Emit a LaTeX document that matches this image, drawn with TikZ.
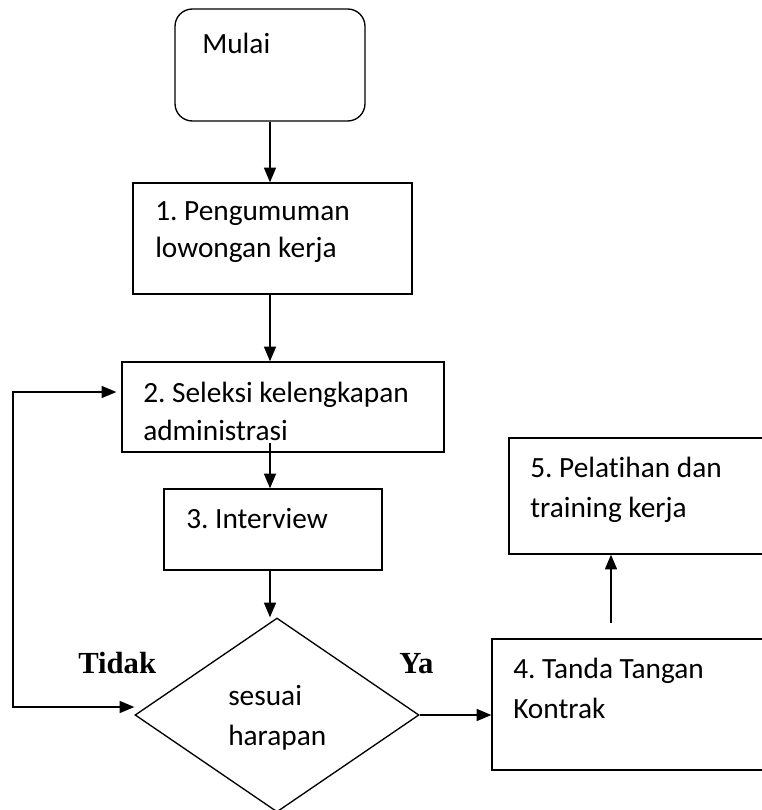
\documentclass[tikz,border=0pt]{standalone}
\usepackage{fontspec}
\setmainfont{Carlito}[Ligatures=NoCommon]
\newfontfamily\timesfont{Liberation Serif}
\usetikzlibrary{arrows.meta,shapes.geometric,fit,calc}
\frenchspacing
\begin{document}
\begin{tikzpicture}[x=0.75pt,y=-0.75pt,
  box/.style={draw,line width=1pt,inner sep=0pt},
  lbl/.style={anchor=base west,inner sep=0pt,font=\fontsize{22}{26}\selectfont},
  yn/.style={anchor=base west,inner sep=0pt,font=\timesfont\bfseries\fontsize{23}{27}\selectfont},
  arr/.style={line width=1pt,-{Triangle[length=11pt,width=9pt]}},
]
\useasboundingbox (0,0) rectangle (762,810);
\clip (0,0) rectangle (762,810);

% boxes
\node[box, rounded corners=13pt, fit={(175,9) (365,121)}] (mulai) {};
\node[box, fit={(133,183) (412,294)}] (b1) {};
\node[box, fit={(122,362) (444,452)}] (b2) {};
\node[box, fit={(164,489) (382,570)}] (b3) {};
\node[box, fit={(509,438) (800,554)}] (b5) {};
\node[box, fit={(492,639) (800,770)}] (b4) {};
\node[draw, diamond, line width=1pt, inner sep=0pt, minimum width=213pt, minimum height=145.5pt] (dec) at (277,715) {};

% texts
\node[lbl] (tmulai) at (202,53) {Mulai};
\node[lbl] (t1a) at (155,220) {1. Pengumuman};
\node[lbl] (t1b) at (155,257) {lowongan kerja};
\node[lbl] (t2a) at (143,402) {2. Seleksi kelengkapan};
\node[lbl] (t2b) at (143,440) {administrasi};
\node[lbl] (t3) at (186,528) {3. Interview};
\node[lbl] (tda) at (228,705) {sesuai};
\node[lbl] (tdb) at (228,745) {harapan};
\node[lbl] (t5a) at (530,477) {5. Pelatihan dan};
\node[lbl] (t5b) at (530,517) {training kerja};
\node[lbl] (t4a) at (513,678) {4. Tanda Tangan};
\node[lbl] (t4b) at (513,718) {Kontrak};
\node[yn] (tidak) at (78,673) {Tidak};
\node[yn] (ya) at (399,673) {Ya};

% connectors
\draw[arr] (mulai.south) -- (b1.north -| mulai.south);
\draw[arr] (b1.south -| mulai.south) -- (b2.north -| mulai.south);
\draw[arr] ($(b2.south -| mulai.south)+(0,-10)$) -- (b3.north -| mulai.south);
\draw[arr] (b3.south -| mulai.south) -- (dec.north -| mulai.south);
\draw[arr] (dec.east) -- (dec.east -| b4.west);
\coordinate (c45) at (611,623);
\draw[arr] (c45) -- (c45 |- b5.south);
\coordinate (l1) at (13,392);
\coordinate (l2) at (13,707);
\draw[line width=1pt, {Triangle[length=11pt,width=9pt]}-{Triangle[length=11pt,width=9pt]}]
  ($(b2.west |- l1)+(-5,0)$) -- (l1) -- (l2) -- (l2 -| dec.west);
\end{tikzpicture}
\end{document}
